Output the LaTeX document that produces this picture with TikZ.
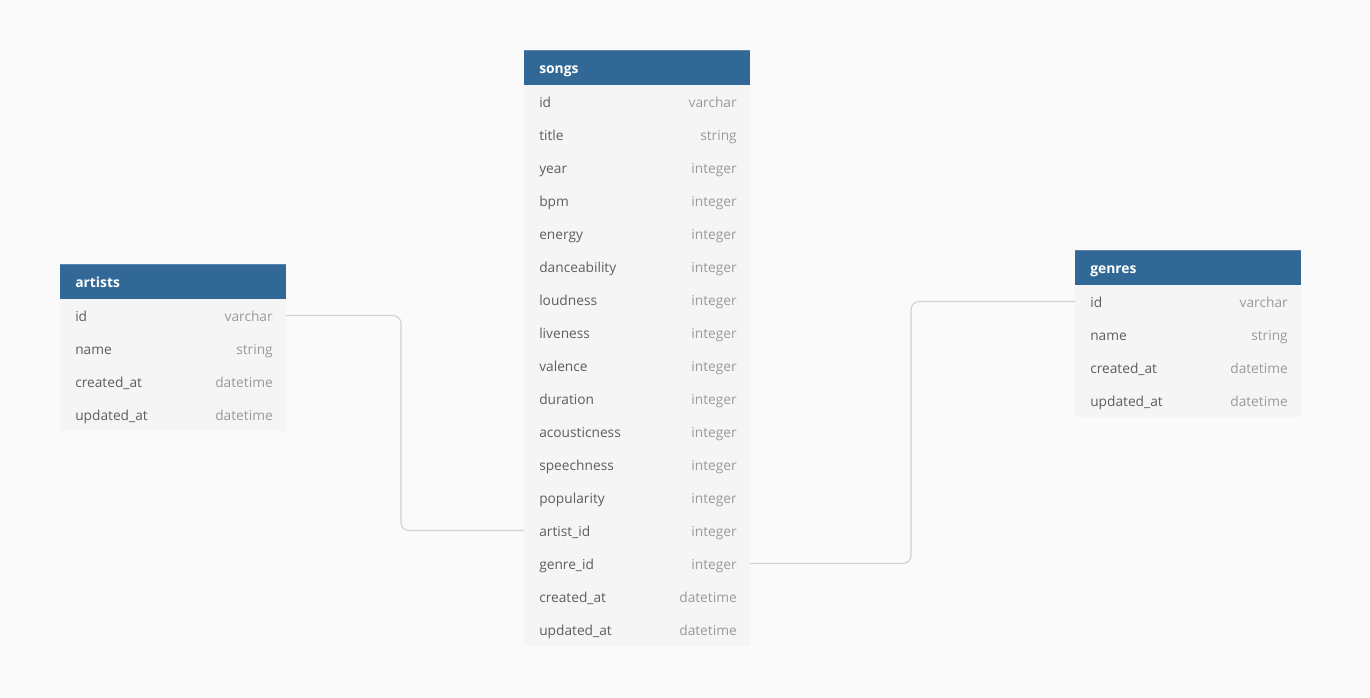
\documentclass[tikz,border=0pt]{standalone}
\usepackage{fontspec}
\setmainfont{Open Sans}
\definecolor{bgc}{HTML}{FAFAFA}
\definecolor{hdrc}{HTML}{316895}
\definecolor{hdrtop}{HTML}{5A87AD}
\definecolor{rowc}{HTML}{F5F5F5}
\definecolor{namec}{HTML}{5E5E5E}
\definecolor{typec}{HTML}{9A9A9A}
\definecolor{connc}{HTML}{D2D2D2}
\tikzset{
  hdr/.style={fill=hdrc, draw=none, minimum width=169.5pt, minimum height=26.25pt, inner sep=0pt, outer sep=0pt},
  hdrtxt/.style={text=white, font=\fontsize{10.4}{12}\selectfont\bfseries, inner sep=0pt, text height=7.5pt, text depth=0pt},
  rowbox/.style={fill=rowc, draw=none, minimum width=169.5pt, minimum height=24.75pt, inner sep=0pt, outer sep=0pt},
  fname/.style={text=namec, font=\fontsize{10.3}{12}\selectfont, inner sep=0pt, text height=7.5pt, text depth=0pt},
  ftype/.style={text=typec, font=\fontsize{10.3}{12}\selectfont, inner sep=0pt, text height=7.5pt, text depth=0pt},
  conn/.style={draw=connc, line width=0.9pt, rounded corners=6pt},
}
\newcommand\ertable[5]{%
  \node[hdr, anchor=north west] (#1) at (#2,#3) {};
  \draw[hdrtop, line width=0.5pt] (#1.north west) -- (#1.north east);
  \node[hdrtxt, anchor=west] (#1-t) at ([xshift=11.25pt,yshift=-0.6pt]#1.west) {#4};
  \foreach \f/\t [count=\i] in {#5} {
    \node[rowbox, anchor=north west] (#1-\i) at (#2,{#3+35+(\i-1)*33}) {};
    \node[fname, anchor=west] (#1-\i-n) at ([xshift=11.25pt,yshift=-0.6pt]#1-\i.west) {\f};
    \node[ftype, anchor=east] (#1-\i-y) at ([xshift=-9.75pt,yshift=-0.6pt]#1-\i.east) {\t};
  }
}
\begin{document}
\begin{tikzpicture}[x=0.75pt,y=-0.75pt]
\fill[bgc] (0,0) rectangle (1370,697);
\useasboundingbox (0,0) rectangle (1370,697);
\ertable{songs}{524}{50}{songs}{id/varchar,title/string,year/integer,bpm/integer,energy/integer,danceability/integer,loudness/integer,liveness/integer,valence/integer,duration/integer,acousticness/integer,speechness/integer,popularity/integer,artist\_id/integer,genre\_id/integer,created\_at/datetime,updated\_at/datetime}
\ertable{artists}{60}{264}{artists}{id/varchar,name/string,created\_at/datetime,updated\_at/datetime}
\ertable{genres}{1075}{250}{genres}{id/varchar,name/string,created\_at/datetime,updated\_at/datetime}
\coordinate (c1) at (401,0);
\coordinate (c2) at (911,0);
\draw[conn] (artists-1.east) -- (artists-1.east -| c1) -- (songs-14.west -| c1) -- (songs-14.west);
\draw[conn] (songs-15.east) -- (songs-15.east -| c2) -- (genres-1.west -| c2) -- (genres-1.west);
\end{tikzpicture}
\end{document}
